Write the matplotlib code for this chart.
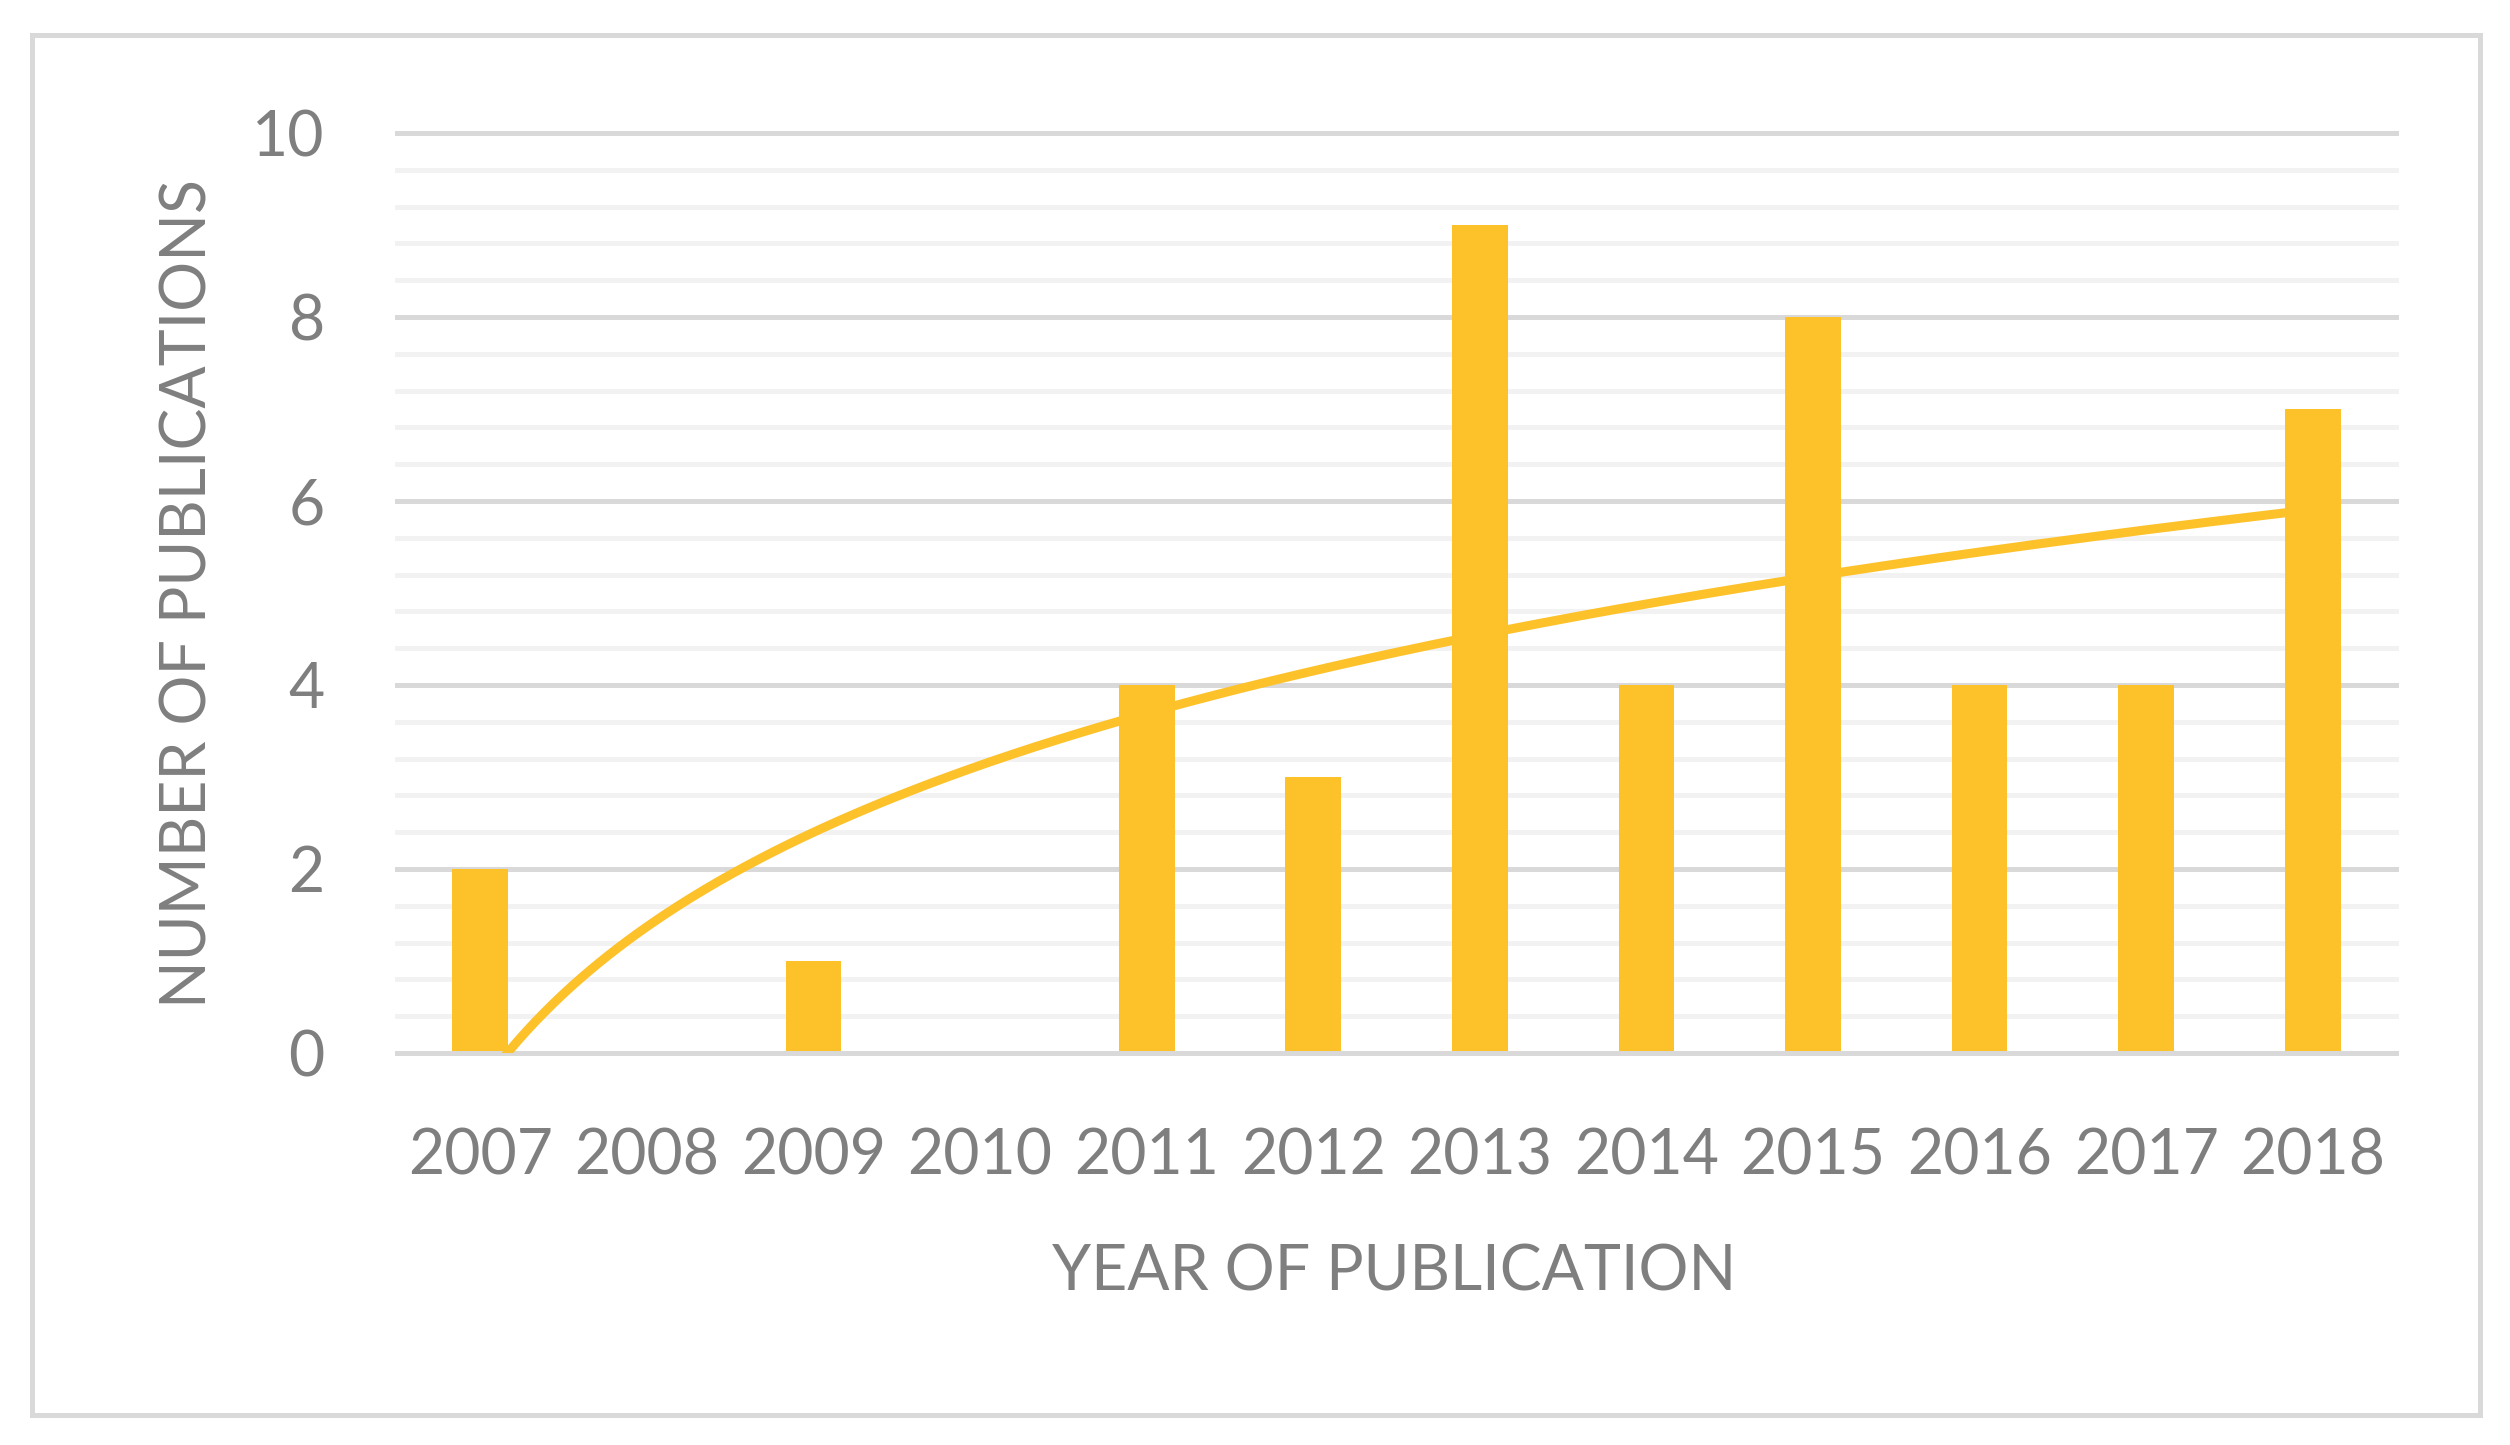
import numpy as np
import matplotlib.pyplot as plt
from matplotlib.patches import Rectangle

# data
years = ['2007', '2008', '2009', '2010', '2011', '2012',
         '2013', '2014', '2015', '2016', '2017', '2018']
publications = [2, 0, 1, 0, 4, 3, 9, 4, 8, 4, 4, 7]
major_ticks = [0, 2, 4, 6, 8, 10]
minor_ticks = [v for v in np.arange(0, 10.01, 0.4) if v % 2 > 0.01]

bar_color = '#FDC12A'
text_color = '#7F7F7F'
major_grid = '#D9D9D9'
minor_grid = '#F2F2F2'

plt.rcParams['font.family'] = ['Lato', 'DejaVu Sans']

fig = plt.figure(figsize=(25.1, 14.45), dpi=100)
ax = fig.add_axes([0.1582, 0.2713, 0.7964, 0.6367])

x = np.arange(1, len(years) + 1)

# gridlines behind the bars
for v in minor_ticks:
    ax.axhline(v, color=minor_grid, lw=3.6, zorder=0, clip_on=False)
for v in major_ticks:
    ax.axhline(v, color=major_grid, lw=3.6, zorder=0 if v else 3, clip_on=False)

ax.bar(x, publications, width=0.335, color=bar_color, zorder=2)

# logarithmic trendline (Excel style), y = a*ln(x) + b
a, b = np.polyfit(np.log(x), publications, 1)
xs = np.linspace(1, len(years), 400)
ax.plot(xs, a * np.log(xs) + b, color=bar_color, lw=6.5, zorder=4,
        solid_capstyle='butt')

ax.set_xlim(0.5, len(years) + 0.5)
ax.set_ylim(0, 10)
ax.set_xticks(x)
ax.set_xticklabels(years)
ax.set_yticks(major_ticks)
ax.tick_params(length=0, labelsize=45, colors=text_color)
ax.tick_params(axis='x', pad=54)
ax.tick_params(axis='y', pad=52)
for s in ax.spines.values():
    s.set_visible(False)

fig.text(0.0752, 0.5896, 'NUMBER OF PUBLICATIONS', rotation=90,
         ha='center', va='center', fontsize=45, color=text_color)
fig.text(0.5556, 0.1195, 'YEAR OF PUBLICATION', ha='center', va='center',
         fontsize=45, color=text_color)

# light border around the whole chart
fig.patches.append(Rectangle((0.0127, 0.0208), 0.9753, 0.955,
                             transform=fig.transFigure, fill=False,
                             edgecolor=major_grid, lw=3.6))

fig.savefig('out.png', dpi=100)
